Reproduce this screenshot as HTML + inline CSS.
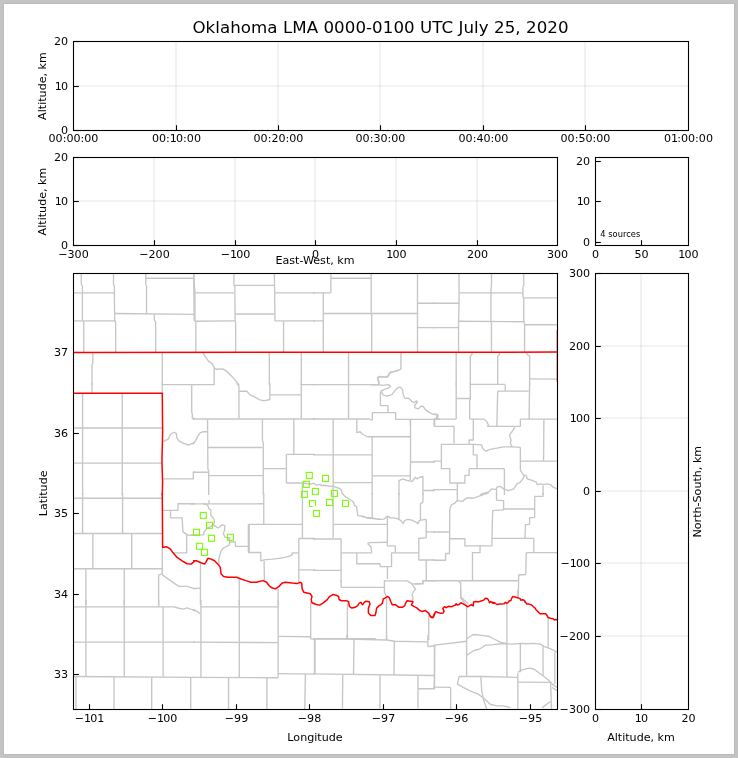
<!DOCTYPE html>
<html><head><meta charset="utf-8"><style>
html,body{margin:0;padding:0;background:#c3c3c3;}
svg{display:block;}
text{font-family:"DejaVu Sans","Liberation Sans",sans-serif;fill:#000;}
</style></head><body>
<svg width="738" height="758" viewBox="0 0 738 758">
<rect x="0" y="0" width="738" height="758" fill="#c3c3c3"/>
<rect x="3" y="3" width="732" height="752" fill="#bcbcbc"/>
<rect x="4" y="4" width="730" height="750" fill="#fff"/>
<line x1="176.0" y1="41.5" x2="176.0" y2="130.5" stroke="#b0b0b0" stroke-opacity="0.3" stroke-width="1.1"/>
<line x1="278.0" y1="41.5" x2="278.0" y2="130.5" stroke="#b0b0b0" stroke-opacity="0.3" stroke-width="1.1"/>
<line x1="380.0" y1="41.5" x2="380.0" y2="130.5" stroke="#b0b0b0" stroke-opacity="0.3" stroke-width="1.1"/>
<line x1="483.0" y1="41.5" x2="483.0" y2="130.5" stroke="#b0b0b0" stroke-opacity="0.3" stroke-width="1.1"/>
<line x1="585.0" y1="41.5" x2="585.0" y2="130.5" stroke="#b0b0b0" stroke-opacity="0.3" stroke-width="1.1"/>
<line x1="73.5" y1="86.0" x2="688.5" y2="86.0" stroke="#b0b0b0" stroke-opacity="0.3" stroke-width="1.1"/>
<line x1="176.50" y1="130.50" x2="176.50" y2="125.20" stroke="#000" stroke-width="1.1" />
<line x1="278.50" y1="130.50" x2="278.50" y2="125.20" stroke="#000" stroke-width="1.1" />
<line x1="380.50" y1="130.50" x2="380.50" y2="125.20" stroke="#000" stroke-width="1.1" />
<line x1="483.50" y1="130.50" x2="483.50" y2="125.20" stroke="#000" stroke-width="1.1" />
<line x1="585.50" y1="130.50" x2="585.50" y2="125.20" stroke="#000" stroke-width="1.1" />
<line x1="73.50" y1="130.50" x2="78.80" y2="130.50" stroke="#000" stroke-width="1.1" />
<line x1="73.50" y1="86.50" x2="78.80" y2="86.50" stroke="#000" stroke-width="1.1" />
<line x1="73.50" y1="41.50" x2="78.80" y2="41.50" stroke="#000" stroke-width="1.1" />
<rect x="73.5" y="41.5" width="615" height="89" fill="none" stroke="#000" stroke-width="1.1"/>
<text x="73.50" y="142.00" text-anchor="middle" font-size="11.11" >00:00:00</text>
<text x="176.50" y="142.00" text-anchor="middle" font-size="11.11" >00:1<tspan dx="-0.9">0</tspan>:00</text>
<text x="278.50" y="142.00" text-anchor="middle" font-size="11.11" >00:20:00</text>
<text x="380.50" y="142.00" text-anchor="middle" font-size="11.11" >00:30:00</text>
<text x="483.50" y="142.00" text-anchor="middle" font-size="11.11" >00:40:00</text>
<text x="585.50" y="142.00" text-anchor="middle" font-size="11.11" >00:50:00</text>
<text x="688.50" y="142.00" text-anchor="middle" font-size="11.11" >01<tspan dx="-0.9">:</tspan>00:00</text>
<text x="68.10" y="133.70" text-anchor="end" font-size="11.11" >0</text>
<text x="68.10" y="89.70" text-anchor="end" font-size="11.11" >1<tspan dx="-0.9">0</tspan></text>
<text x="68.10" y="44.70" text-anchor="end" font-size="11.11" >20</text>
<text x="46.00" y="86.00" text-anchor="middle" font-size="11.11" transform="rotate(-90 46.00 86.00)" >Altitude, km</text>
<text x="380.52" y="32.70" text-anchor="middle" font-size="16.67" letter-spacing="0.05" >Oklahoma LMA 0000-0100 UTC July 25, 2020</text>
<line x1="154.0" y1="157.5" x2="154.0" y2="245.5" stroke="#b0b0b0" stroke-opacity="0.3" stroke-width="1.1"/>
<line x1="235.0" y1="157.5" x2="235.0" y2="245.5" stroke="#b0b0b0" stroke-opacity="0.3" stroke-width="1.1"/>
<line x1="315.0" y1="157.5" x2="315.0" y2="245.5" stroke="#b0b0b0" stroke-opacity="0.3" stroke-width="1.1"/>
<line x1="396.0" y1="157.5" x2="396.0" y2="245.5" stroke="#b0b0b0" stroke-opacity="0.3" stroke-width="1.1"/>
<line x1="477.0" y1="157.5" x2="477.0" y2="245.5" stroke="#b0b0b0" stroke-opacity="0.3" stroke-width="1.1"/>
<line x1="73.5" y1="201.0" x2="557.5" y2="201.0" stroke="#b0b0b0" stroke-opacity="0.3" stroke-width="1.1"/>
<line x1="154.50" y1="245.50" x2="154.50" y2="240.20" stroke="#000" stroke-width="1.1" />
<line x1="235.50" y1="245.50" x2="235.50" y2="240.20" stroke="#000" stroke-width="1.1" />
<line x1="315.50" y1="245.50" x2="315.50" y2="240.20" stroke="#000" stroke-width="1.1" />
<line x1="396.50" y1="245.50" x2="396.50" y2="240.20" stroke="#000" stroke-width="1.1" />
<line x1="477.50" y1="245.50" x2="477.50" y2="240.20" stroke="#000" stroke-width="1.1" />
<line x1="73.50" y1="245.50" x2="78.80" y2="245.50" stroke="#000" stroke-width="1.1" />
<line x1="73.50" y1="201.50" x2="78.80" y2="201.50" stroke="#000" stroke-width="1.1" />
<line x1="73.50" y1="157.50" x2="78.80" y2="157.50" stroke="#000" stroke-width="1.1" />
<rect x="73.5" y="157.5" width="484" height="88" fill="none" stroke="#000" stroke-width="1.1"/>
<text x="73.50" y="258.00" text-anchor="middle" font-size="11.11" >−300</text>
<text x="154.50" y="258.00" text-anchor="middle" font-size="11.11" >−200</text>
<text x="235.50" y="258.00" text-anchor="middle" font-size="11.11" >−1<tspan dx="-0.9">0</tspan>0</text>
<text x="315.50" y="258.00" text-anchor="middle" font-size="11.11" >0</text>
<text x="396.50" y="258.00" text-anchor="middle" font-size="11.11" >1<tspan dx="-0.9">0</tspan>0</text>
<text x="477.50" y="258.00" text-anchor="middle" font-size="11.11" >200</text>
<text x="557.50" y="258.00" text-anchor="middle" font-size="11.11" >300</text>
<text x="68.10" y="248.70" text-anchor="end" font-size="11.11" >0</text>
<text x="68.10" y="204.70" text-anchor="end" font-size="11.11" >1<tspan dx="-0.9">0</tspan></text>
<text x="68.10" y="160.70" text-anchor="end" font-size="11.11" >20</text>
<text x="46.00" y="201.50" text-anchor="middle" font-size="11.11" transform="rotate(-90 46.00 201.50)" >Altitude, km</text>
<text x="315.00" y="264.00" text-anchor="middle" font-size="11.11" >East-West, km</text>
<line x1="595.50" y1="242.50" x2="600.80" y2="242.50" stroke="#000" stroke-width="1.1" />
<line x1="595.50" y1="201.50" x2="600.80" y2="201.50" stroke="#000" stroke-width="1.1" />
<line x1="595.50" y1="161.50" x2="600.80" y2="161.50" stroke="#000" stroke-width="1.1" />
<line x1="641.50" y1="245.50" x2="641.50" y2="240.20" stroke="#000" stroke-width="1.1" />
<rect x="595.5" y="157.5" width="93" height="88" fill="none" stroke="#000" stroke-width="1.1"/>
<text x="595.50" y="258.00" text-anchor="middle" font-size="11.11" >0</text>
<text x="641.50" y="258.00" text-anchor="middle" font-size="11.11" >50</text>
<text x="688.50" y="258.00" text-anchor="middle" font-size="11.11" >1<tspan dx="-0.9">0</tspan>0</text>
<text x="590.10" y="245.70" text-anchor="end" font-size="11.11" >0</text>
<text x="590.10" y="204.70" text-anchor="end" font-size="11.11" >1<tspan dx="-0.9">0</tspan></text>
<text x="590.10" y="164.70" text-anchor="end" font-size="11.11" >20</text>
<text x="600.30" y="236.80" text-anchor="start" font-size="8.33" >4 sources</text>
<line x1="595.5" y1="346.0" x2="688.5" y2="346.0" stroke="#b0b0b0" stroke-opacity="0.3" stroke-width="1.1"/>
<line x1="595.5" y1="418.0" x2="688.5" y2="418.0" stroke="#b0b0b0" stroke-opacity="0.3" stroke-width="1.1"/>
<line x1="595.5" y1="491.0" x2="688.5" y2="491.0" stroke="#b0b0b0" stroke-opacity="0.3" stroke-width="1.1"/>
<line x1="595.5" y1="563.0" x2="688.5" y2="563.0" stroke="#b0b0b0" stroke-opacity="0.3" stroke-width="1.1"/>
<line x1="595.5" y1="636.0" x2="688.5" y2="636.0" stroke="#b0b0b0" stroke-opacity="0.3" stroke-width="1.1"/>
<line x1="641.0" y1="273.5" x2="641.0" y2="709.5" stroke="#b0b0b0" stroke-opacity="0.3" stroke-width="1.1"/>
<line x1="595.50" y1="273.50" x2="600.80" y2="273.50" stroke="#000" stroke-width="1.1" />
<line x1="595.50" y1="346.50" x2="600.80" y2="346.50" stroke="#000" stroke-width="1.1" />
<line x1="595.50" y1="418.50" x2="600.80" y2="418.50" stroke="#000" stroke-width="1.1" />
<line x1="595.50" y1="491.50" x2="600.80" y2="491.50" stroke="#000" stroke-width="1.1" />
<line x1="595.50" y1="563.50" x2="600.80" y2="563.50" stroke="#000" stroke-width="1.1" />
<line x1="595.50" y1="636.50" x2="600.80" y2="636.50" stroke="#000" stroke-width="1.1" />
<line x1="595.50" y1="709.50" x2="600.80" y2="709.50" stroke="#000" stroke-width="1.1" />
<line x1="641.50" y1="709.50" x2="641.50" y2="704.20" stroke="#000" stroke-width="1.1" />
<rect x="595.5" y="273.5" width="93" height="436" fill="none" stroke="#000" stroke-width="1.1"/>
<text x="595.50" y="722.00" text-anchor="middle" font-size="11.11" >0</text>
<text x="641.50" y="722.00" text-anchor="middle" font-size="11.11" >1<tspan dx="-0.9">0</tspan></text>
<text x="688.50" y="722.00" text-anchor="middle" font-size="11.11" >20</text>
<text x="590.10" y="276.70" text-anchor="end" font-size="11.11" >300</text>
<text x="590.10" y="349.70" text-anchor="end" font-size="11.11" >200</text>
<text x="590.10" y="421.70" text-anchor="end" font-size="11.11" >1<tspan dx="-0.9">0</tspan>0</text>
<text x="590.10" y="494.70" text-anchor="end" font-size="11.11" >0</text>
<text x="590.10" y="566.70" text-anchor="end" font-size="11.11" >−1<tspan dx="-0.9">0</tspan>0</text>
<text x="590.10" y="639.70" text-anchor="end" font-size="11.11" >−200</text>
<text x="590.10" y="712.70" text-anchor="end" font-size="11.11" >−300</text>
<text x="641.00" y="741.00" text-anchor="middle" font-size="11.11" >Altitude, km</text>
<text x="700.80" y="491.70" text-anchor="middle" font-size="11.11" transform="rotate(-90 700.80 491.70)" >North-South, km</text>
<line x1="89.50" y1="709.50" x2="89.50" y2="704.20" stroke="#000" stroke-width="1.1" />
<line x1="162.50" y1="709.50" x2="162.50" y2="704.20" stroke="#000" stroke-width="1.1" />
<line x1="236.50" y1="709.50" x2="236.50" y2="704.20" stroke="#000" stroke-width="1.1" />
<line x1="309.50" y1="709.50" x2="309.50" y2="704.20" stroke="#000" stroke-width="1.1" />
<line x1="383.50" y1="709.50" x2="383.50" y2="704.20" stroke="#000" stroke-width="1.1" />
<line x1="456.50" y1="709.50" x2="456.50" y2="704.20" stroke="#000" stroke-width="1.1" />
<line x1="530.50" y1="709.50" x2="530.50" y2="704.20" stroke="#000" stroke-width="1.1" />
<line x1="73.50" y1="352.50" x2="78.80" y2="352.50" stroke="#000" stroke-width="1.1" />
<line x1="73.50" y1="433.50" x2="78.80" y2="433.50" stroke="#000" stroke-width="1.1" />
<line x1="73.50" y1="513.50" x2="78.80" y2="513.50" stroke="#000" stroke-width="1.1" />
<line x1="73.50" y1="594.50" x2="78.80" y2="594.50" stroke="#000" stroke-width="1.1" />
<line x1="73.50" y1="674.50" x2="78.80" y2="674.50" stroke="#000" stroke-width="1.1" />
<svg x="73.5" y="273.5" width="484" height="436" viewBox="73.5 273.5 484 436" overflow="hidden">
<polyline points="81.27,273.0 81.27,284.57 82.42,285.89 82.42,320.94" fill="none" stroke="#c6c6c6" stroke-width="1.35" stroke-linejoin="round"/>
<polyline points="73.83,292.84 114.0,292.84" fill="none" stroke="#c6c6c6" stroke-width="1.35" stroke-linejoin="round"/>
<polyline points="113.5,273.0 113.5,284.57 114.33,285.89 114.66,320.94 115.65,321.77 115.65,352.02" fill="none" stroke="#c6c6c6" stroke-width="1.35" stroke-linejoin="round"/>
<polyline points="114.33,313.5 195.0,314.33" fill="none" stroke="#c6c6c6" stroke-width="1.35" stroke-linejoin="round"/>
<polyline points="145.74,273.0 145.74,284.57 146.56,285.89 146.56,313.5" fill="none" stroke="#c6c6c6" stroke-width="1.35" stroke-linejoin="round"/>
<polyline points="145.74,278.29 194.17,278.29" fill="none" stroke="#c6c6c6" stroke-width="1.35" stroke-linejoin="round"/>
<polyline points="193.68,273.0 194.17,320.94" fill="none" stroke="#c6c6c6" stroke-width="1.35" stroke-linejoin="round"/>
<polyline points="73.83,320.94 115.65,320.94" fill="none" stroke="#c6c6c6" stroke-width="1.35" stroke-linejoin="round"/>
<polyline points="83.75,320.94 83.75,352.02" fill="none" stroke="#c6c6c6" stroke-width="1.35" stroke-linejoin="round"/>
<polyline points="154.33,314.33 154.33,320.11 155.66,321.77 155.66,352.02" fill="none" stroke="#c6c6c6" stroke-width="1.35" stroke-linejoin="round"/>
<polyline points="92.84,352.68 92.84,363.09 92.01,364.75 92.01,385.08" fill="none" stroke="#c6c6c6" stroke-width="1.35" stroke-linejoin="round"/>
<polyline points="162.27,352.68 162.27,385.08" fill="none" stroke="#c6c6c6" stroke-width="1.35" stroke-linejoin="round"/>
<polyline points="162.27,384.59 195.0,384.59" fill="none" stroke="#c6c6c6" stroke-width="1.35" stroke-linejoin="round"/>
<polyline points="193.83,273.0 194.32,285.4 194.98,292.84 194.98,320.94 195.81,321.77 195.81,352.02" fill="none" stroke="#c6c6c6" stroke-width="1.35" stroke-linejoin="round"/>
<polyline points="194.98,292.84 234.0,292.84" fill="none" stroke="#c6c6c6" stroke-width="1.35" stroke-linejoin="round"/>
<polyline points="234.0,273.0 234.0,285.4 234.82,286.22 235.15,320.94 235.65,321.77 235.65,352.02" fill="none" stroke="#c6c6c6" stroke-width="1.35" stroke-linejoin="round"/>
<polyline points="234.82,285.4 274.33,285.4" fill="none" stroke="#c6c6c6" stroke-width="1.35" stroke-linejoin="round"/>
<polyline points="274.33,273.0 274.66,292.84 274.99,320.94" fill="none" stroke="#c6c6c6" stroke-width="1.35" stroke-linejoin="round"/>
<polyline points="235.15,314.0 274.33,314.0" fill="none" stroke="#c6c6c6" stroke-width="1.35" stroke-linejoin="round"/>
<polyline points="274.99,292.84 315.0,292.84" fill="none" stroke="#c6c6c6" stroke-width="1.35" stroke-linejoin="round"/>
<polyline points="195.81,321.27 235.15,320.94" fill="none" stroke="#c6c6c6" stroke-width="1.35" stroke-linejoin="round"/>
<polyline points="274.99,320.94 315.0,320.94" fill="none" stroke="#c6c6c6" stroke-width="1.35" stroke-linejoin="round"/>
<polyline points="283.59,321.27 283.59,352.02" fill="none" stroke="#c6c6c6" stroke-width="1.35" stroke-linejoin="round"/>
<polyline points="202.92,352.68 204.57,355.66 208.7,361.44 212.01,363.59 214.49,368.05 216.14,369.21 222.76,368.88 226.06,370.86 232.67,377.15 239.29,385.08" fill="none" stroke="#c6c6c6" stroke-width="1.35" stroke-linejoin="round"/>
<polyline points="214.16,368.05 214.16,385.08" fill="none" stroke="#c6c6c6" stroke-width="1.35" stroke-linejoin="round"/>
<polyline points="269.04,352.68 269.37,355.66 269.37,385.08" fill="none" stroke="#c6c6c6" stroke-width="1.35" stroke-linejoin="round"/>
<polyline points="301.28,352.68 301.28,385.08" fill="none" stroke="#c6c6c6" stroke-width="1.35" stroke-linejoin="round"/>
<polyline points="193.0,384.59 214.16,384.59" fill="none" stroke="#c6c6c6" stroke-width="1.35" stroke-linejoin="round"/>
<polyline points="301.28,384.59 315.0,384.59" fill="none" stroke="#c6c6c6" stroke-width="1.35" stroke-linejoin="round"/>
<polyline points="330.85,273.0 330.85,292.84" fill="none" stroke="#c6c6c6" stroke-width="1.35" stroke-linejoin="round"/>
<polyline points="313.0,292.84 330.85,292.84" fill="none" stroke="#c6c6c6" stroke-width="1.35" stroke-linejoin="round"/>
<polyline points="330.85,278.29 371.19,278.29" fill="none" stroke="#c6c6c6" stroke-width="1.35" stroke-linejoin="round"/>
<polyline points="371.19,273.0 371.19,313.5 371.69,314.33 371.69,352.02" fill="none" stroke="#c6c6c6" stroke-width="1.35" stroke-linejoin="round"/>
<polyline points="323.25,292.84 323.25,352.02" fill="none" stroke="#c6c6c6" stroke-width="1.35" stroke-linejoin="round"/>
<polyline points="313.0,320.94 323.25,320.94" fill="none" stroke="#c6c6c6" stroke-width="1.35" stroke-linejoin="round"/>
<polyline points="323.25,313.5 417.15,313.5" fill="none" stroke="#c6c6c6" stroke-width="1.35" stroke-linejoin="round"/>
<polyline points="417.48,273.0 417.48,352.02" fill="none" stroke="#c6c6c6" stroke-width="1.35" stroke-linejoin="round"/>
<polyline points="417.48,303.25 435.0,303.25" fill="none" stroke="#c6c6c6" stroke-width="1.35" stroke-linejoin="round"/>
<polyline points="417.48,327.55 435.0,327.55" fill="none" stroke="#c6c6c6" stroke-width="1.35" stroke-linejoin="round"/>
<polyline points="348.54,352.68 348.54,385.08" fill="none" stroke="#c6c6c6" stroke-width="1.35" stroke-linejoin="round"/>
<polyline points="400.95,352.68 400.95,368.88 398.14,370.53 394.83,371.36 392.35,372.19 389.87,373.01 388.22,376.32 385.74,377.15 382.43,377.15 379.12,376.32 377.47,377.97 379.12,382.11 378.3,385.08" fill="none" stroke="#c6c6c6" stroke-width="1.35" stroke-linejoin="round"/>
<polyline points="313.0,384.59 378.3,384.59" fill="none" stroke="#c6c6c6" stroke-width="1.35" stroke-linejoin="round"/>
<polyline points="433.0,303.24 459.04,303.24" fill="none" stroke="#c6c6c6" stroke-width="1.35" stroke-linejoin="round"/>
<polyline points="433.0,327.61 458.54,327.61" fill="none" stroke="#c6c6c6" stroke-width="1.35" stroke-linejoin="round"/>
<polyline points="459.04,273.0 459.04,303.24 458.54,321.73 458.54,351.63" fill="none" stroke="#c6c6c6" stroke-width="1.35" stroke-linejoin="round"/>
<polyline points="459.04,292.83 522.89,292.83" fill="none" stroke="#c6c6c6" stroke-width="1.35" stroke-linejoin="round"/>
<polyline points="491.47,273.0 491.47,286.44 490.97,288.12 490.97,321.73 491.47,323.41 491.47,351.63" fill="none" stroke="#c6c6c6" stroke-width="1.35" stroke-linejoin="round"/>
<polyline points="458.54,321.22 524.57,321.73" fill="none" stroke="#c6c6c6" stroke-width="1.35" stroke-linejoin="round"/>
<polyline points="523.73,273.0 523.73,285.6 522.89,287.28 522.89,296.52 523.73,298.2 523.73,321.73 524.57,323.41 524.57,351.63" fill="none" stroke="#c6c6c6" stroke-width="1.35" stroke-linejoin="round"/>
<polyline points="523.73,297.87 557.0,297.87" fill="none" stroke="#c6c6c6" stroke-width="1.35" stroke-linejoin="round"/>
<polyline points="524.57,324.75 557.0,324.75" fill="none" stroke="#c6c6c6" stroke-width="1.35" stroke-linejoin="round"/>
<polyline points="456.19,352.31 456.19,385.07" fill="none" stroke="#c6c6c6" stroke-width="1.35" stroke-linejoin="round"/>
<polyline points="471.98,352.31 471.98,354.49 470.3,356.17 470.3,385.07" fill="none" stroke="#c6c6c6" stroke-width="1.35" stroke-linejoin="round"/>
<polyline points="499.37,352.31 499.37,354.49 497.69,356.17 497.69,385.07" fill="none" stroke="#c6c6c6" stroke-width="1.35" stroke-linejoin="round"/>
<polyline points="526.25,352.31 527.09,354.49 529.61,356.17 529.61,385.07" fill="none" stroke="#c6c6c6" stroke-width="1.35" stroke-linejoin="round"/>
<polyline points="529.61,378.85 557.0,379.19" fill="none" stroke="#c6c6c6" stroke-width="1.35" stroke-linejoin="round"/>
<polyline points="470.3,384.4 505.25,384.4" fill="none" stroke="#c6c6c6" stroke-width="1.35" stroke-linejoin="round"/>
<polyline points="92.01,383.0 92.01,392.92" fill="none" stroke="#c6c6c6" stroke-width="1.35" stroke-linejoin="round"/>
<polyline points="162.27,383.0 162.27,392.92" fill="none" stroke="#c6c6c6" stroke-width="1.35" stroke-linejoin="round"/>
<polyline points="82.59,393.25 82.59,495.08" fill="none" stroke="#c6c6c6" stroke-width="1.35" stroke-linejoin="round"/>
<polyline points="122.26,393.25 122.26,495.08" fill="none" stroke="#c6c6c6" stroke-width="1.35" stroke-linejoin="round"/>
<polyline points="73.0,427.96 162.27,427.96" fill="none" stroke="#c6c6c6" stroke-width="1.35" stroke-linejoin="round"/>
<polyline points="73.0,463.18 162.27,463.18" fill="none" stroke="#c6c6c6" stroke-width="1.35" stroke-linejoin="round"/>
<polyline points="191.69,384.65 191.69,412.76 192.36,413.58 192.36,418.54 195.0,418.54" fill="none" stroke="#c6c6c6" stroke-width="1.35" stroke-linejoin="round"/>
<polyline points="163.09,441.69 168.05,439.21 170.53,434.25 173.84,432.26 176.32,433.42 176.82,437.55 178.8,440.86 183.76,443.34 188.72,444.99 195.0,442.51" fill="none" stroke="#c6c6c6" stroke-width="1.35" stroke-linejoin="round"/>
<polyline points="163.09,478.88 193.35,478.88 193.35,472.27 195.0,472.27" fill="none" stroke="#c6c6c6" stroke-width="1.35" stroke-linejoin="round"/>
<polyline points="236.81,383.0 238.96,386.31 238.96,418.54" fill="none" stroke="#c6c6c6" stroke-width="1.35" stroke-linejoin="round"/>
<polyline points="238.96,391.27 246.73,391.27 250.03,394.9 254.99,397.05 259.12,399.53 264.08,400.85 269.87,399.53 269.87,383.0" fill="none" stroke="#c6c6c6" stroke-width="1.35" stroke-linejoin="round"/>
<polyline points="269.87,394.9 301.28,394.9" fill="none" stroke="#c6c6c6" stroke-width="1.35" stroke-linejoin="round"/>
<polyline points="301.28,383.0 301.28,418.54" fill="none" stroke="#c6c6c6" stroke-width="1.35" stroke-linejoin="round"/>
<polyline points="193.0,419.04 315.0,419.04" fill="none" stroke="#c6c6c6" stroke-width="1.35" stroke-linejoin="round"/>
<polyline points="207.55,419.04 207.88,468.96 208.7,470.62 208.7,495.08" fill="none" stroke="#c6c6c6" stroke-width="1.35" stroke-linejoin="round"/>
<polyline points="193.0,444.17 195.48,440.86 197.96,435.9 200.44,432.59 202.92,431.77 207.55,431.77" fill="none" stroke="#c6c6c6" stroke-width="1.35" stroke-linejoin="round"/>
<polyline points="207.88,447.47 262.43,447.47" fill="none" stroke="#c6c6c6" stroke-width="1.35" stroke-linejoin="round"/>
<polyline points="262.43,419.04 262.43,440.86 263.26,442.51 263.26,495.08" fill="none" stroke="#c6c6c6" stroke-width="1.35" stroke-linejoin="round"/>
<polyline points="208.7,475.57 263.26,475.57" fill="none" stroke="#c6c6c6" stroke-width="1.35" stroke-linejoin="round"/>
<polyline points="293.84,419.04 293.84,454.41" fill="none" stroke="#c6c6c6" stroke-width="1.35" stroke-linejoin="round"/>
<polyline points="286.4,454.41 315.0,454.41" fill="none" stroke="#c6c6c6" stroke-width="1.35" stroke-linejoin="round"/>
<polyline points="286.4,454.41 286.4,483.01" fill="none" stroke="#c6c6c6" stroke-width="1.35" stroke-linejoin="round"/>
<polyline points="263.26,468.63 286.4,468.63" fill="none" stroke="#c6c6c6" stroke-width="1.35" stroke-linejoin="round"/>
<polyline points="286.4,483.01 302.11,483.01" fill="none" stroke="#c6c6c6" stroke-width="1.35" stroke-linejoin="round"/>
<polyline points="193.0,472.27 207.88,472.27" fill="none" stroke="#c6c6c6" stroke-width="1.35" stroke-linejoin="round"/>
<polyline points="380.91,391.34 383.28,395.14 387.07,396.08 391.82,394.66 395.14,390.39 397.98,387.55 400.35,387.07 402.72,389.92 403.2,394.66 404.62,397.98 408.89,398.46 411.73,401.3 414.11,402.72 416.48,400.83 417.43,402.25 414.58,405.57 415.05,407.94 418.37,408.89 421.22,406.04 423.12,406.52 425.96,410.31 429.76,412.68 432.6,414.11 436.4,414.11 438.29,415.53 436.87,418.85 440.0,419.32" fill="none" stroke="#c6c6c6" stroke-width="1.35" stroke-linejoin="round"/>
<polyline points="398.46,370.0 394.66,371.42 390.87,371.9 388.5,374.74 387.07,377.11 379.49,376.64 377.59,378.54 378.54,382.33 379.01,384.7 382.33,385.37 388.97,384.7 390.39,386.6 388.5,388.21 384.23,389.44 380.91,391.34 380.43,392.76 380.43,405.57 388.02,405.57 388.02,412.68" fill="none" stroke="#c6c6c6" stroke-width="1.35" stroke-linejoin="round"/>
<polyline points="370.0,384.7 379.01,384.7" fill="none" stroke="#c6c6c6" stroke-width="1.35" stroke-linejoin="round"/>
<polyline points="370.0,419.8 372.37,419.8 372.37,412.68 395.61,412.68 395.61,419.32 440.0,419.32" fill="none" stroke="#c6c6c6" stroke-width="1.35" stroke-linejoin="round"/>
<polyline points="410.31,419.32 410.31,425.01" fill="none" stroke="#c6c6c6" stroke-width="1.35" stroke-linejoin="round"/>
<polyline points="434.5,419.32 434.5,425.01" fill="none" stroke="#c6c6c6" stroke-width="1.35" stroke-linejoin="round"/>
<polyline points="348.54,383.0 348.54,418.54" fill="none" stroke="#c6c6c6" stroke-width="1.35" stroke-linejoin="round"/>
<polyline points="313.0,419.04 370.03,419.04" fill="none" stroke="#c6c6c6" stroke-width="1.35" stroke-linejoin="round"/>
<polyline points="333.17,419.04 333.17,495.08" fill="none" stroke="#c6c6c6" stroke-width="1.35" stroke-linejoin="round"/>
<polyline points="313.0,454.91 372.18,454.91" fill="none" stroke="#c6c6c6" stroke-width="1.35" stroke-linejoin="round"/>
<polyline points="372.18,436.73 372.18,495.08" fill="none" stroke="#c6c6c6" stroke-width="1.35" stroke-linejoin="round"/>
<polyline points="356.81,419.7 356.81,432.59 360.11,431.77 362.59,434.25 367.55,436.73 372.18,436.73 410.53,436.73" fill="none" stroke="#c6c6c6" stroke-width="1.35" stroke-linejoin="round"/>
<polyline points="410.53,419.7 410.53,460.7 410.2,480.53" fill="none" stroke="#c6c6c6" stroke-width="1.35" stroke-linejoin="round"/>
<polyline points="372.18,475.91 410.53,475.91" fill="none" stroke="#c6c6c6" stroke-width="1.35" stroke-linejoin="round"/>
<polyline points="410.53,462.02 435.0,462.02" fill="none" stroke="#c6c6c6" stroke-width="1.35" stroke-linejoin="round"/>
<polyline points="333.17,482.68 372.18,482.68" fill="none" stroke="#c6c6c6" stroke-width="1.35" stroke-linejoin="round"/>
<polyline points="434.5,419.7 434.5,426.31" fill="none" stroke="#c6c6c6" stroke-width="1.35" stroke-linejoin="round"/>
<polyline points="398.96,495.08 398.96,480.53 403.09,478.88 407.23,480.53 412.19,481.36 415.49,477.23 417.15,478.88 419.63,477.23 422.93,476.4 422.93,495.08" fill="none" stroke="#c6c6c6" stroke-width="1.35" stroke-linejoin="round"/>
<polyline points="422.93,490.45 435.0,490.45" fill="none" stroke="#c6c6c6" stroke-width="1.35" stroke-linejoin="round"/>
<polyline points="456.19,383.0 456.19,419.12" fill="none" stroke="#c6c6c6" stroke-width="1.35" stroke-linejoin="round"/>
<polyline points="470.3,383.0 470.3,398.96 469.63,400.64 469.63,419.12" fill="none" stroke="#c6c6c6" stroke-width="1.35" stroke-linejoin="round"/>
<polyline points="456.19,398.46 470.3,398.46" fill="none" stroke="#c6c6c6" stroke-width="1.35" stroke-linejoin="round"/>
<polyline points="505.25,384.68 505.25,391.07" fill="none" stroke="#c6c6c6" stroke-width="1.35" stroke-linejoin="round"/>
<polyline points="497.69,391.07 528.77,391.07" fill="none" stroke="#c6c6c6" stroke-width="1.35" stroke-linejoin="round"/>
<polyline points="497.69,391.07 496.85,426.35" fill="none" stroke="#c6c6c6" stroke-width="1.35" stroke-linejoin="round"/>
<polyline points="529.61,383.0 529.11,419.12" fill="none" stroke="#c6c6c6" stroke-width="1.35" stroke-linejoin="round"/>
<polyline points="520.37,419.12 557.0,419.12" fill="none" stroke="#c6c6c6" stroke-width="1.35" stroke-linejoin="round"/>
<polyline points="433.0,414.08 437.2,414.92 436.36,418.28 434.34,419.12 434.34,426.35 454.0,426.35 454.0,443.49" fill="none" stroke="#c6c6c6" stroke-width="1.35" stroke-linejoin="round"/>
<polyline points="434.34,419.12 456.19,419.12" fill="none" stroke="#c6c6c6" stroke-width="1.35" stroke-linejoin="round"/>
<polyline points="469.63,419.12 484.25,419.12 486.77,421.64 488.45,425.01 487.61,426.35 520.37,426.35 520.37,419.12" fill="none" stroke="#c6c6c6" stroke-width="1.35" stroke-linejoin="round"/>
<polyline points="473.33,419.12 473.33,439.96 469.12,439.96 469.12,444.33" fill="none" stroke="#c6c6c6" stroke-width="1.35" stroke-linejoin="round"/>
<polyline points="514.49,426.35 514.49,427.53 511.97,431.73 509.45,435.09 511.13,440.13 510.29,443.49 511.97,446.01 510.29,446.85" fill="none" stroke="#c6c6c6" stroke-width="1.35" stroke-linejoin="round"/>
<polyline points="441.4,444.33 473.33,444.33 481.73,444.83 482.57,448.53 485.93,451.05 490.13,449.37 496.85,448.19 503.57,446.85 511.97,446.85 520.37,447.35" fill="none" stroke="#c6c6c6" stroke-width="1.35" stroke-linejoin="round"/>
<polyline points="520.37,447.35 520.37,470.37 523.73,475.41 526.25,475.41 527.09,478.77 532.13,480.45 536.33,482.13 537.17,484.65 540.53,483.81 543.89,484.65 547.25,483.81 550.62,484.65 553.14,487.17 557.0,488.85" fill="none" stroke="#c6c6c6" stroke-width="1.35" stroke-linejoin="round"/>
<polyline points="543.89,419.12 543.56,461.13" fill="none" stroke="#c6c6c6" stroke-width="1.35" stroke-linejoin="round"/>
<polyline points="520.37,461.13 557.0,461.13" fill="none" stroke="#c6c6c6" stroke-width="1.35" stroke-linejoin="round"/>
<polyline points="473.33,444.33 473.33,454.91 477.02,454.91 477.02,468.69" fill="none" stroke="#c6c6c6" stroke-width="1.35" stroke-linejoin="round"/>
<polyline points="469.12,468.69 504.41,468.69" fill="none" stroke="#c6c6c6" stroke-width="1.35" stroke-linejoin="round"/>
<polyline points="504.41,468.69 504.41,495.07" fill="none" stroke="#c6c6c6" stroke-width="1.35" stroke-linejoin="round"/>
<polyline points="441.4,444.33 441.4,468.69 449.8,468.69 449.8,482.97 464.92,482.97 464.92,475.41 469.12,475.41 469.12,468.69" fill="none" stroke="#c6c6c6" stroke-width="1.35" stroke-linejoin="round"/>
<polyline points="433.0,461.13 441.4,461.13" fill="none" stroke="#c6c6c6" stroke-width="1.35" stroke-linejoin="round"/>
<polyline points="433.0,489.69 457.36,489.69" fill="none" stroke="#c6c6c6" stroke-width="1.35" stroke-linejoin="round"/>
<polyline points="457.36,482.97 457.36,495.07" fill="none" stroke="#c6c6c6" stroke-width="1.35" stroke-linejoin="round"/>
<polyline points="480.05,495.07 483.41,493.05 488.45,492.21 491.81,488.85 496.01,489.69 496.85,487.17 500.21,486.33 503.57,488.85 508.61,490.53 513.65,488.85 517.01,483.81 520.37,482.13 524.57,476.25" fill="none" stroke="#c6c6c6" stroke-width="1.35" stroke-linejoin="round"/>
<polyline points="496.51,488.85 496.51,495.07" fill="none" stroke="#c6c6c6" stroke-width="1.35" stroke-linejoin="round"/>
<polyline points="543.05,485.49 543.05,495.07" fill="none" stroke="#c6c6c6" stroke-width="1.35" stroke-linejoin="round"/>
<polyline points="73.0,498.29 162.27,498.29" fill="none" stroke="#c6c6c6" stroke-width="1.35" stroke-linejoin="round"/>
<polyline points="82.59,493.0 82.59,533.5" fill="none" stroke="#c6c6c6" stroke-width="1.35" stroke-linejoin="round"/>
<polyline points="122.59,493.0 122.59,533.5" fill="none" stroke="#c6c6c6" stroke-width="1.35" stroke-linejoin="round"/>
<polyline points="73.0,533.5 162.27,533.5" fill="none" stroke="#c6c6c6" stroke-width="1.35" stroke-linejoin="round"/>
<polyline points="92.84,533.5 92.84,568.71" fill="none" stroke="#c6c6c6" stroke-width="1.35" stroke-linejoin="round"/>
<polyline points="131.69,533.5 131.69,568.71" fill="none" stroke="#c6c6c6" stroke-width="1.35" stroke-linejoin="round"/>
<polyline points="73.0,568.71 162.27,568.71" fill="none" stroke="#c6c6c6" stroke-width="1.35" stroke-linejoin="round"/>
<polyline points="85.89,568.71 85.89,605.08" fill="none" stroke="#c6c6c6" stroke-width="1.35" stroke-linejoin="round"/>
<polyline points="124.25,568.71 124.25,605.08" fill="none" stroke="#c6c6c6" stroke-width="1.35" stroke-linejoin="round"/>
<polyline points="162.27,548.38 162.27,574.0 158.63,574.83 158.63,605.08" fill="none" stroke="#c6c6c6" stroke-width="1.35" stroke-linejoin="round"/>
<polyline points="162.27,574.83 178.8,586.4 187.07,586.4 195.0,588.88" fill="none" stroke="#c6c6c6" stroke-width="1.35" stroke-linejoin="round"/>
<polyline points="163.09,510.36 177.97,510.36 177.97,503.75 195.0,503.75" fill="none" stroke="#c6c6c6" stroke-width="1.35" stroke-linejoin="round"/>
<polyline points="170.53,510.36 170.53,517.8 182.11,517.8 182.93,531.85 186.73,534.33 186.73,552.84 173.84,552.84" fill="none" stroke="#c6c6c6" stroke-width="1.35" stroke-linejoin="round"/>
<polyline points="186.73,535.15 195.0,535.15" fill="none" stroke="#c6c6c6" stroke-width="1.35" stroke-linejoin="round"/>
<polyline points="190.0,503.86 250.03,503.86" fill="none" stroke="#c6c6c6" stroke-width="1.35" stroke-linejoin="round"/>
<polyline points="209.04,500.0 209.04,503.86" fill="none" stroke="#c6c6c6" stroke-width="1.35" stroke-linejoin="round"/>
<polyline points="202.86,503.86 206.29,504.29 208.01,506.0 208.87,508.58 211.01,510.29 210.58,514.58 212.3,517.15 214.01,518.87 214.44,522.3 213.15,524.87 210.58,526.58 206.72,528.3 205.01,530.87 203.72,532.59 203.72,534.73 190.0,535.16" fill="none" stroke="#c6c6c6" stroke-width="1.35" stroke-linejoin="round"/>
<polyline points="213.15,524.87 217.87,527.87 218.73,527.87 220.01,526.58 222.16,524.87 224.73,525.73 224.73,530.01 223.44,533.01 224.3,536.02 225.16,537.3 229.02,537.73 230.3,537.73" fill="none" stroke="#c6c6c6" stroke-width="1.35" stroke-linejoin="round"/>
<polyline points="229.02,537.73 229.87,542.02 229.02,545.45 226.02,546.73 223.44,548.02 220.87,551.45 219.58,555.74 218.73,560.03 219.16,565.0" fill="none" stroke="#c6c6c6" stroke-width="1.35" stroke-linejoin="round"/>
<polyline points="229.45,542.02 235.45,542.02 235.45,546.31 249.17,546.31" fill="none" stroke="#c6c6c6" stroke-width="1.35" stroke-linejoin="round"/>
<polyline points="249.17,524.44 250.03,524.44" fill="none" stroke="#c6c6c6" stroke-width="1.35" stroke-linejoin="round"/>
<polyline points="249.17,524.44 249.17,553.17" fill="none" stroke="#c6c6c6" stroke-width="1.35" stroke-linejoin="round"/>
<polyline points="250.03,503.91 263.75,503.75" fill="none" stroke="#c6c6c6" stroke-width="1.35" stroke-linejoin="round"/>
<polyline points="263.75,493.0 263.75,524.41" fill="none" stroke="#c6c6c6" stroke-width="1.35" stroke-linejoin="round"/>
<polyline points="248.38,524.41 302.44,524.41" fill="none" stroke="#c6c6c6" stroke-width="1.35" stroke-linejoin="round"/>
<polyline points="248.38,524.41 248.38,552.51" fill="none" stroke="#c6c6c6" stroke-width="1.35" stroke-linejoin="round"/>
<polyline points="248.38,552.51 260.78,552.51 260.78,560.78 264.08,559.95 272.35,559.12 278.96,558.3 288.05,556.64 292.19,554.99 292.19,552.84 298.8,552.84" fill="none" stroke="#c6c6c6" stroke-width="1.35" stroke-linejoin="round"/>
<polyline points="302.44,493.0 302.44,538.46" fill="none" stroke="#c6c6c6" stroke-width="1.35" stroke-linejoin="round"/>
<polyline points="298.8,538.46 315.0,538.46" fill="none" stroke="#c6c6c6" stroke-width="1.35" stroke-linejoin="round"/>
<polyline points="298.8,538.46 298.8,582.27" fill="none" stroke="#c6c6c6" stroke-width="1.35" stroke-linejoin="round"/>
<polyline points="298.8,569.87 315.0,569.87" fill="none" stroke="#c6c6c6" stroke-width="1.35" stroke-linejoin="round"/>
<polyline points="264.08,560.78 264.41,580.62" fill="none" stroke="#c6c6c6" stroke-width="1.35" stroke-linejoin="round"/>
<polyline points="200.44,563.26 200.44,605.08" fill="none" stroke="#c6c6c6" stroke-width="1.35" stroke-linejoin="round"/>
<polyline points="193.0,588.55 200.44,588.05" fill="none" stroke="#c6c6c6" stroke-width="1.35" stroke-linejoin="round"/>
<polyline points="239.29,579.29 239.29,605.08" fill="none" stroke="#c6c6c6" stroke-width="1.35" stroke-linejoin="round"/>
<polyline points="278.14,588.88 278.14,605.08" fill="none" stroke="#c6c6c6" stroke-width="1.35" stroke-linejoin="round"/>
<polyline points="333.17,493.0 333.17,537.63" fill="none" stroke="#c6c6c6" stroke-width="1.35" stroke-linejoin="round"/>
<polyline points="360.94,516.14 365.9,517.47 371.69,517.8 375.82,518.62 380.78,519.45 384.08,519.12 387.39,516.14 390.7,517.8 394.0,517.8 397.31,518.62 400.62,520.28 403.09,523.58 404.75,520.28 408.05,519.45 412.19,520.28 415.49,521.93 417.97,523.58 419.63,520.28 426.24,519.45" fill="none" stroke="#c6c6c6" stroke-width="1.35" stroke-linejoin="round"/>
<polyline points="372.18,493.0 372.18,517.8" fill="none" stroke="#c6c6c6" stroke-width="1.35" stroke-linejoin="round"/>
<polyline points="398.96,493.0 398.96,519.45" fill="none" stroke="#c6c6c6" stroke-width="1.35" stroke-linejoin="round"/>
<polyline points="422.93,493.0 422.93,502.09 420.45,503.75 420.45,519.45" fill="none" stroke="#c6c6c6" stroke-width="1.35" stroke-linejoin="round"/>
<polyline points="333.17,524.41 387.39,524.41" fill="none" stroke="#c6c6c6" stroke-width="1.35" stroke-linejoin="round"/>
<polyline points="387.39,516.14 387.39,545.9 395.33,545.9 395.33,552.51" fill="none" stroke="#c6c6c6" stroke-width="1.35" stroke-linejoin="round"/>
<polyline points="313.0,538.96 341.1,538.96 341.1,582.27" fill="none" stroke="#c6c6c6" stroke-width="1.35" stroke-linejoin="round"/>
<polyline points="426.24,519.45 426.24,537.63 418.8,538.46 418.8,559.95 426.24,559.95 426.24,580.62" fill="none" stroke="#c6c6c6" stroke-width="1.35" stroke-linejoin="round"/>
<polyline points="426.24,531.85 435.0,531.85" fill="none" stroke="#c6c6c6" stroke-width="1.35" stroke-linejoin="round"/>
<polyline points="426.24,559.95 435.0,559.95" fill="none" stroke="#c6c6c6" stroke-width="1.35" stroke-linejoin="round"/>
<polyline points="341.1,552.84 372.18,552.84" fill="none" stroke="#c6c6c6" stroke-width="1.35" stroke-linejoin="round"/>
<polyline points="356.81,552.84 356.81,563.75 379.95,563.75 380.45,566.56 391.52,566.56 391.52,552.84 418.8,552.84" fill="none" stroke="#c6c6c6" stroke-width="1.35" stroke-linejoin="round"/>
<polyline points="367.55,543.42 370.03,542.59 387.39,542.26" fill="none" stroke="#c6c6c6" stroke-width="1.35" stroke-linejoin="round"/>
<polyline points="367.55,543.42 370.86,546.73 371.69,552.51" fill="none" stroke="#c6c6c6" stroke-width="1.35" stroke-linejoin="round"/>
<polyline points="387.39,566.56 387.39,578.96" fill="none" stroke="#c6c6c6" stroke-width="1.35" stroke-linejoin="round"/>
<polyline points="313.0,570.37 341.1,570.37" fill="none" stroke="#c6c6c6" stroke-width="1.35" stroke-linejoin="round"/>
<polyline points="422.93,580.62 435.0,580.62" fill="none" stroke="#c6c6c6" stroke-width="1.35" stroke-linejoin="round"/>
<polyline points="422.93,580.62 422.93,583.92 412.19,583.92" fill="none" stroke="#c6c6c6" stroke-width="1.35" stroke-linejoin="round"/>
<polyline points="341.1,580.0 341.1,587.44" fill="none" stroke="#c6c6c6" stroke-width="1.35" stroke-linejoin="round"/>
<polyline points="341.1,587.44 384.91,587.44" fill="none" stroke="#c6c6c6" stroke-width="1.35" stroke-linejoin="round"/>
<polyline points="384.41,580.0 384.41,592.4 385.74,594.88 386.56,596.53" fill="none" stroke="#c6c6c6" stroke-width="1.35" stroke-linejoin="round"/>
<polyline points="384.41,580.83 407.23,580.83 411.36,583.31 413.84,586.61 415.49,589.09 413.01,592.4 412.19,594.88 413.01,598.18 412.19,601.49" fill="none" stroke="#c6c6c6" stroke-width="1.35" stroke-linejoin="round"/>
<polyline points="414.67,584.13 422.93,583.31 422.93,580.0" fill="none" stroke="#c6c6c6" stroke-width="1.35" stroke-linejoin="round"/>
<polyline points="422.93,580.83 435.0,580.83" fill="none" stroke="#c6c6c6" stroke-width="1.35" stroke-linejoin="round"/>
<polyline points="347.38,602.32 347.38,640.01" fill="none" stroke="#c6c6c6" stroke-width="1.35" stroke-linejoin="round"/>
<polyline points="386.56,598.18 386.56,640.01" fill="none" stroke="#c6c6c6" stroke-width="1.35" stroke-linejoin="round"/>
<polyline points="428.72,613.06 428.72,640.01" fill="none" stroke="#c6c6c6" stroke-width="1.35" stroke-linejoin="round"/>
<polyline points="313.0,638.69 375.82,638.69" fill="none" stroke="#c6c6c6" stroke-width="1.35" stroke-linejoin="round"/>
<polyline points="85.89,600.0 85.89,676.87" fill="none" stroke="#c6c6c6" stroke-width="1.35" stroke-linejoin="round"/>
<polyline points="124.25,600.0 124.25,676.87" fill="none" stroke="#c6c6c6" stroke-width="1.35" stroke-linejoin="round"/>
<polyline points="158.63,600.0 158.63,606.94" fill="none" stroke="#c6c6c6" stroke-width="1.35" stroke-linejoin="round"/>
<polyline points="73.0,606.94 173.84,606.94 178.8,608.27 183.76,609.09 187.07,607.93 190.37,609.09 195.0,610.25" fill="none" stroke="#c6c6c6" stroke-width="1.35" stroke-linejoin="round"/>
<polyline points="163.09,606.94 163.09,676.87" fill="none" stroke="#c6c6c6" stroke-width="1.35" stroke-linejoin="round"/>
<polyline points="73.0,642.15 195.0,642.15" fill="none" stroke="#c6c6c6" stroke-width="1.35" stroke-linejoin="round"/>
<polyline points="73.0,676.54 195.0,677.37" fill="none" stroke="#c6c6c6" stroke-width="1.35" stroke-linejoin="round"/>
<polyline points="75.98,676.87 75.98,709.93" fill="none" stroke="#c6c6c6" stroke-width="1.35" stroke-linejoin="round"/>
<polyline points="114.0,677.37 114.0,709.93" fill="none" stroke="#c6c6c6" stroke-width="1.35" stroke-linejoin="round"/>
<polyline points="151.69,677.37 151.69,709.93" fill="none" stroke="#c6c6c6" stroke-width="1.35" stroke-linejoin="round"/>
<polyline points="190.7,677.37 190.7,709.93" fill="none" stroke="#c6c6c6" stroke-width="1.35" stroke-linejoin="round"/>
<polyline points="200.93,600.0 200.93,677.37" fill="none" stroke="#c6c6c6" stroke-width="1.35" stroke-linejoin="round"/>
<polyline points="239.29,600.0 239.29,677.37" fill="none" stroke="#c6c6c6" stroke-width="1.35" stroke-linejoin="round"/>
<polyline points="278.14,600.0 278.14,677.7" fill="none" stroke="#c6c6c6" stroke-width="1.35" stroke-linejoin="round"/>
<polyline points="200.93,606.94 278.14,606.94" fill="none" stroke="#c6c6c6" stroke-width="1.35" stroke-linejoin="round"/>
<polyline points="193.0,642.15 278.14,642.65" fill="none" stroke="#c6c6c6" stroke-width="1.35" stroke-linejoin="round"/>
<polyline points="193.0,677.37 278.14,677.7" fill="none" stroke="#c6c6c6" stroke-width="1.35" stroke-linejoin="round"/>
<polyline points="193.0,610.25 196.31,610.75 200.44,614.05" fill="none" stroke="#c6c6c6" stroke-width="1.35" stroke-linejoin="round"/>
<polyline points="310.7,601.65 310.7,638.85 315.0,639.34" fill="none" stroke="#c6c6c6" stroke-width="1.35" stroke-linejoin="round"/>
<polyline points="278.14,636.37 310.7,636.7" fill="none" stroke="#c6c6c6" stroke-width="1.35" stroke-linejoin="round"/>
<polyline points="314.5,639.34 314.5,673.56" fill="none" stroke="#c6c6c6" stroke-width="1.35" stroke-linejoin="round"/>
<polyline points="278.14,673.56 315.0,674.06" fill="none" stroke="#c6c6c6" stroke-width="1.35" stroke-linejoin="round"/>
<polyline points="228.54,677.7 228.54,709.93" fill="none" stroke="#c6c6c6" stroke-width="1.35" stroke-linejoin="round"/>
<polyline points="266.89,677.7 266.89,709.93" fill="none" stroke="#c6c6c6" stroke-width="1.35" stroke-linejoin="round"/>
<polyline points="305.41,674.06 304.75,709.93" fill="none" stroke="#c6c6c6" stroke-width="1.35" stroke-linejoin="round"/>
<polyline points="313.0,639.13 346.06,639.13 386.56,639.96 394.83,641.28 427.89,641.94" fill="none" stroke="#c6c6c6" stroke-width="1.35" stroke-linejoin="round"/>
<polyline points="346.89,635.0 346.89,639.13" fill="none" stroke="#c6c6c6" stroke-width="1.35" stroke-linejoin="round"/>
<polyline points="386.56,635.0 386.56,639.96" fill="none" stroke="#c6c6c6" stroke-width="1.35" stroke-linejoin="round"/>
<polyline points="427.89,635.0 427.89,646.57 434.5,645.75 434.5,688.73" fill="none" stroke="#c6c6c6" stroke-width="1.35" stroke-linejoin="round"/>
<polyline points="314.98,639.13 314.98,673.85" fill="none" stroke="#c6c6c6" stroke-width="1.35" stroke-linejoin="round"/>
<polyline points="354.0,639.96 353.5,674.67" fill="none" stroke="#c6c6c6" stroke-width="1.35" stroke-linejoin="round"/>
<polyline points="394.33,641.28 394.0,675.01" fill="none" stroke="#c6c6c6" stroke-width="1.35" stroke-linejoin="round"/>
<polyline points="313.0,673.85 434.5,675.5" fill="none" stroke="#c6c6c6" stroke-width="1.35" stroke-linejoin="round"/>
<polyline points="342.76,675.01 342.43,708.56" fill="none" stroke="#c6c6c6" stroke-width="1.35" stroke-linejoin="round"/>
<polyline points="379.95,675.5 379.95,708.56" fill="none" stroke="#c6c6c6" stroke-width="1.35" stroke-linejoin="round"/>
<polyline points="417.97,676.0 417.97,708.56" fill="none" stroke="#c6c6c6" stroke-width="1.35" stroke-linejoin="round"/>
<polyline points="417.97,688.73 434.5,688.73" fill="none" stroke="#c6c6c6" stroke-width="1.35" stroke-linejoin="round"/>
<polyline points="457.36,493.0 457.36,500.56" fill="none" stroke="#c6c6c6" stroke-width="1.35" stroke-linejoin="round"/>
<polyline points="449.8,508.96 451.48,504.76 454.84,503.08 457.36,500.56 462.4,501.4 466.6,498.04 473.33,498.04 478.37,496.36 483.41,494.68 488.45,493.0" fill="none" stroke="#c6c6c6" stroke-width="1.35" stroke-linejoin="round"/>
<polyline points="449.8,508.96 449.47,553.49 445.6,553.49 445.6,560.21 433.0,560.21" fill="none" stroke="#c6c6c6" stroke-width="1.35" stroke-linejoin="round"/>
<polyline points="433.0,531.98 449.8,531.98" fill="none" stroke="#c6c6c6" stroke-width="1.35" stroke-linejoin="round"/>
<polyline points="496.51,493.0 496.51,500.06 503.57,500.56 503.57,509.8 492.65,510.64 491.81,545.93 464.92,545.93 464.92,538.7 449.8,538.7" fill="none" stroke="#c6c6c6" stroke-width="1.35" stroke-linejoin="round"/>
<polyline points="503.57,508.96 534.65,508.96" fill="none" stroke="#c6c6c6" stroke-width="1.35" stroke-linejoin="round"/>
<polyline points="543.05,493.0 543.05,496.36 534.65,496.36 534.65,517.36 529.61,517.87 529.61,524.08 525.41,524.92 525.08,538.37" fill="none" stroke="#c6c6c6" stroke-width="1.35" stroke-linejoin="round"/>
<polyline points="491.81,538.37 533.81,538.37 533.81,552.65" fill="none" stroke="#c6c6c6" stroke-width="1.35" stroke-linejoin="round"/>
<polyline points="526.25,552.65 557.0,552.65" fill="none" stroke="#c6c6c6" stroke-width="1.35" stroke-linejoin="round"/>
<polyline points="526.25,552.65 525.75,574.49 518.69,574.99 518.36,597.17" fill="none" stroke="#c6c6c6" stroke-width="1.35" stroke-linejoin="round"/>
<polyline points="480.05,545.93 480.05,552.65 472.49,552.65 472.49,580.71" fill="none" stroke="#c6c6c6" stroke-width="1.35" stroke-linejoin="round"/>
<polyline points="433.0,580.71 458.2,580.71 517.85,580.71" fill="none" stroke="#c6c6c6" stroke-width="1.35" stroke-linejoin="round"/>
<polyline points="458.2,580.71 460.72,582.89 460.72,598.01 464.08,602.21 466.6,605.07" fill="none" stroke="#c6c6c6" stroke-width="1.35" stroke-linejoin="round"/>
<polyline points="460.72,590.0 460.72,596.72 464.08,600.08 468.28,603.44" fill="none" stroke="#c6c6c6" stroke-width="1.35" stroke-linejoin="round"/>
<polyline points="517.85,590.0 517.85,596.72" fill="none" stroke="#c6c6c6" stroke-width="1.35" stroke-linejoin="round"/>
<polyline points="466.6,605.96 466.6,675.69" fill="none" stroke="#c6c6c6" stroke-width="1.35" stroke-linejoin="round"/>
<polyline points="506.93,603.44 506.93,677.37" fill="none" stroke="#c6c6c6" stroke-width="1.35" stroke-linejoin="round"/>
<polyline points="548.09,616.88 548.09,647.97" fill="none" stroke="#c6c6c6" stroke-width="1.35" stroke-linejoin="round"/>
<polyline points="433.0,645.45 466.6,641.25" fill="none" stroke="#c6c6c6" stroke-width="1.35" stroke-linejoin="round"/>
<polyline points="466.6,638.73 473.33,634.53 481.73,635.37 488.45,636.21 493.49,638.73 500.21,642.09 506.93,643.77 511.97,644.1 520.37,643.43 527.09,643.77 533.81,643.43 540.53,644.1 543.89,646.29 550.62,648.81 557.0,652.17" fill="none" stroke="#c6c6c6" stroke-width="1.35" stroke-linejoin="round"/>
<polyline points="466.6,655.53 469.96,653.01 474.17,650.49 480.05,648.81 485.09,645.45 493.49,644.61 500.21,643.77 506.93,643.77" fill="none" stroke="#c6c6c6" stroke-width="1.35" stroke-linejoin="round"/>
<polyline points="434.68,645.45 434.34,689.13" fill="none" stroke="#c6c6c6" stroke-width="1.35" stroke-linejoin="round"/>
<polyline points="520.37,643.77 520.37,672.33" fill="none" stroke="#c6c6c6" stroke-width="1.35" stroke-linejoin="round"/>
<polyline points="543.05,645.45 543.05,675.69" fill="none" stroke="#c6c6c6" stroke-width="1.35" stroke-linejoin="round"/>
<polyline points="554.82,652.17 554.82,684.09" fill="none" stroke="#c6c6c6" stroke-width="1.35" stroke-linejoin="round"/>
<polyline points="459.04,676.53 480.89,676.53 517.85,677.37" fill="none" stroke="#c6c6c6" stroke-width="1.35" stroke-linejoin="round"/>
<polyline points="459.04,676.53 457.36,684.09 463.24,687.45 469.96,690.81 478.37,694.17 485.09,699.21 490.13,704.25 496.85,705.93 503.57,705.93 510.29,707.62" fill="none" stroke="#c6c6c6" stroke-width="1.35" stroke-linejoin="round"/>
<polyline points="480.89,676.53 481.73,690.81 483.41,699.21 486.77,709.3" fill="none" stroke="#c6c6c6" stroke-width="1.35" stroke-linejoin="round"/>
<polyline points="517.85,673.17 517.85,709.3" fill="none" stroke="#c6c6c6" stroke-width="1.35" stroke-linejoin="round"/>
<polyline points="517.85,672.33 522.05,669.81 528.77,668.13 533.81,668.97 540.53,674.01 547.25,679.05 552.3,684.09 557.0,687.45" fill="none" stroke="#c6c6c6" stroke-width="1.35" stroke-linejoin="round"/>
<polyline points="517.85,682.08 550.62,682.41" fill="none" stroke="#c6c6c6" stroke-width="1.35" stroke-linejoin="round"/>
<polyline points="550.62,682.41 551.46,709.3" fill="none" stroke="#c6c6c6" stroke-width="1.35" stroke-linejoin="round"/>
<polyline points="433.0,687.12 450.64,687.45" fill="none" stroke="#c6c6c6" stroke-width="1.35" stroke-linejoin="round"/>
<polyline points="450.64,687.45 450.64,709.3" fill="none" stroke="#c6c6c6" stroke-width="1.35" stroke-linejoin="round"/>
<polyline points="542.21,707.62 548.93,702.57 550.62,701.73" fill="none" stroke="#c6c6c6" stroke-width="1.35" stroke-linejoin="round"/>
<polyline points="552.3,687.45 557.0,690.81" fill="none" stroke="#c6c6c6" stroke-width="1.35" stroke-linejoin="round"/>
<polyline points="302.4,483.0 311.2,484.1 313.9,483.3 316.6,485.1 319.3,484.4 322,485.5 326.1,485.5 328.8,486 332.8,486.4 335.6,487.1 339.6,488.5 341.7,490.5 342.1,493.2 344.4,495.9 347.8,498.2 351.8,500.7 353.8,502.7 354.3,505.4 356.6,506.7 357.2,511.5 357.9,515.6 361.3,516.2 364.7,516.9 368.1,518.3 372.1,518.5 376.2,518.9 380,519.6" fill="none" stroke="#c6c6c6" stroke-width="1.35" stroke-linejoin="round"/>
<polyline points="302.4,482.5 302.4,494" fill="none" stroke="#c6c6c6" stroke-width="1.35" stroke-linejoin="round"/>
<polyline points="73.0,393.25 162.27,393.25 162.6,432.59 161.94,462.35 162.6,482.19 162.27,495.08" fill="none" stroke="#f00" stroke-width="1.5" stroke-linejoin="round"/>
<polyline points="162.27,493.0 162.6,547.55 166.4,546.73 170.53,549.21 172.19,551.69 177.15,557.47 182.11,560.78 187.07,563.75 191.2,564.08 195.0,560.78" fill="none" stroke="#f00" stroke-width="1.5" stroke-linejoin="round"/>
<polyline points="193.0,560.78 196.31,560.78 200.44,562.43 204.57,564.08 206.22,561.6 207.88,558.3 211.18,559.12 214.49,560.78 217.8,564.08 220.28,567.39 221.1,574.0 223.58,576.48 227.72,577.31 232.67,577.31 236.81,577.31 240.94,578.96 245.9,580.62 250.86,582.27 256.64,582.27 259.12,581.44 263.26,580.62 266.56,582.27 269.04,585.57 272.35,588.05 275.66,588.88 278.96,586.4 282.27,583.09 285.57,582.27 292.19,583.09 297.15,583.59 300.45,582.27 301.78,583.59 302.11,588.88 303.76,592.19 307.07,593.01 310.37,593.84 312.02,596.32 311.2,599.63 312.02,602.93 315.0,603.76" fill="none" stroke="#f00" stroke-width="1.5" stroke-linejoin="round"/>
<polyline points="313.0,603.14 316.31,604.47 319.61,605.13 322.92,603.14 327.05,599.84 329.53,596.53 332.84,594.55 336.14,595.21 338.62,596.53 339.12,599.51 341.1,600.66 346.06,600.66 348.54,601.49 349.37,606.45 351.85,608.1 355.15,607.28 357.63,605.62 359.29,603.14 360.94,602.32 362.59,604.8 364.25,602.32 365.9,601.16 369.21,601.82 370.03,603.97 368.38,608.1 368.38,613.06 370.86,615.54 374.99,615.54 375.82,613.06 376.64,608.1 378.3,606.45 379.12,605.62 380.78,604.8 382.43,603.14 383.26,599.01 384.91,598.18 387.39,596.53 389.04,597.36 389.87,599.01 390.7,601.49 392.35,604.8 395.66,604.8 398.96,607.28 402.27,607.28 404.75,605.62 405.57,603.14 407.23,600.66 410.53,601.16 413.01,601.82 411.36,604.8 413.84,606.45 417.15,608.1 419.63,610.58 422.11,611.41 425.41,610.58 428.72,613.06 430.37,616.37 432.85,617.69 435.0,613.06" fill="none" stroke="#f00" stroke-width="1.5" stroke-linejoin="round"/>
<polyline points="430.0,616.42 431.76,617.74 433.52,616.86 434.4,613.78 435.72,611.58 437.93,612.46 440.57,613.34 443.21,612.9 444.09,611.14 442.77,608.5 444.53,606.73 446.29,607.62 448.5,606.29 451.14,606.73 453.34,605.85 455.54,604.97 455.98,603.65 457.3,604.97 459.07,604.53 460.83,602.77 462.59,603.65 464.79,604.97 467.43,606.73 469.19,605.85 471.4,604.53 473.16,605.85 473.6,601.89 475.8,601.45 478.44,601.89 481.08,601.01 483.73,600.13 485.05,598.37 487.25,598.54 488.57,600.13 489.45,602.77 490.77,601.45 492.09,602.77 493.41,603.21 495.0,602.77" fill="none" stroke="#f00" stroke-width="1.5" stroke-linejoin="round"/>
<polyline points="492.0,602.33 494.64,602.77 496.84,604.53 499.93,604.09 504.33,603.65 505.21,602.33 506.53,603.21 508.29,602.33 509.17,601.01 510.94,600.57 511.38,598.81 512.7,596.61 514.9,597.05 517.54,597.75 520.18,598.63 520.62,600.13 522.39,599.69 524.59,600.57 525.03,601.89 525.91,602.77 526.79,604.09 528.99,604.09 531.63,604.97 533.4,606.73 535.16,608.06 536.04,609.82 537.8,611.58 540.0,613.78 543.08,613.78 545.73,613.78 546.61,614.66 547.93,617.3 550.13,618.18 552.77,618.62 554.53,619.95 555.86,619.51 557.0,619.95" fill="none" stroke="#f00" stroke-width="1.5" stroke-linejoin="round"/>
<polyline points="557.45,330 557.45,382" fill="none" stroke="#f00" stroke-width="1.5" stroke-linejoin="round"/>
<polyline points="70,352.4 560,352.1" fill="none" stroke="#f00" stroke-width="1.5" stroke-linejoin="round"/>
<rect x="306.30" y="472.40" width="6" height="6" fill="none" stroke="#7cfc00" stroke-width="1.1"/>
<rect x="322.50" y="475.40" width="6" height="6" fill="none" stroke="#7cfc00" stroke-width="1.1"/>
<rect x="303.30" y="481.40" width="6" height="6" fill="none" stroke="#7cfc00" stroke-width="1.1"/>
<rect x="312.40" y="488.40" width="6" height="6" fill="none" stroke="#7cfc00" stroke-width="1.1"/>
<rect x="301.40" y="491.40" width="6" height="6" fill="none" stroke="#7cfc00" stroke-width="1.1"/>
<rect x="331.40" y="490.40" width="6" height="6" fill="none" stroke="#7cfc00" stroke-width="1.1"/>
<path d="M312.80,506.50 H309.50 V500.50 H315.50 V506.00" fill="none" stroke="#7cfc00" stroke-width="1.1"/>
<rect x="326.50" y="499.50" width="6" height="6" fill="none" stroke="#7cfc00" stroke-width="1.1"/>
<rect x="342.50" y="500.40" width="6" height="6" fill="none" stroke="#7cfc00" stroke-width="1.1"/>
<rect x="313.50" y="510.40" width="6" height="6" fill="none" stroke="#7cfc00" stroke-width="1.1"/>
<rect x="200.30" y="512.40" width="6" height="6" fill="none" stroke="#7cfc00" stroke-width="1.1"/>
<rect x="206.50" y="522.30" width="6" height="6" fill="none" stroke="#7cfc00" stroke-width="1.1"/>
<rect x="193.50" y="529.30" width="6" height="6" fill="none" stroke="#7cfc00" stroke-width="1.1"/>
<rect x="208.50" y="535.30" width="6" height="6" fill="none" stroke="#7cfc00" stroke-width="1.1"/>
<rect x="227.40" y="534.30" width="6" height="6" fill="none" stroke="#7cfc00" stroke-width="1.1"/>
<rect x="196.40" y="543.30" width="6" height="6" fill="none" stroke="#7cfc00" stroke-width="1.1"/>
<rect x="201.50" y="549.40" width="6" height="6" fill="none" stroke="#7cfc00" stroke-width="1.1"/>
</svg>
<text x="89.50" y="722.00" text-anchor="middle" font-size="11.11" >−1<tspan dx="-0.9">0</tspan>1</text>
<text x="162.50" y="722.00" text-anchor="middle" font-size="11.11" >−1<tspan dx="-0.9">0</tspan>0</text>
<text x="236.50" y="722.00" text-anchor="middle" font-size="11.11" >−99</text>
<text x="309.50" y="722.00" text-anchor="middle" font-size="11.11" >−98</text>
<text x="383.50" y="722.00" text-anchor="middle" font-size="11.11" >−97</text>
<text x="456.50" y="722.00" text-anchor="middle" font-size="11.11" >−96</text>
<text x="530.50" y="722.00" text-anchor="middle" font-size="11.11" >−95</text>
<text x="68.10" y="355.70" text-anchor="end" font-size="11.11" >37</text>
<text x="68.10" y="436.70" text-anchor="end" font-size="11.11" >36</text>
<text x="68.10" y="516.70" text-anchor="end" font-size="11.11" >35</text>
<text x="68.10" y="597.70" text-anchor="end" font-size="11.11" >34</text>
<text x="68.10" y="677.70" text-anchor="end" font-size="11.11" >33</text>
<rect x="73.5" y="273.5" width="484" height="436" fill="none" stroke="#000" stroke-width="1.1"/>
<text x="47.00" y="493.30" text-anchor="middle" font-size="11.11" transform="rotate(-90 47.00 493.30)" >Latitude</text>
<text x="315.00" y="741.00" text-anchor="middle" font-size="11.11" >Longitude</text>
</svg>
</body></html>
